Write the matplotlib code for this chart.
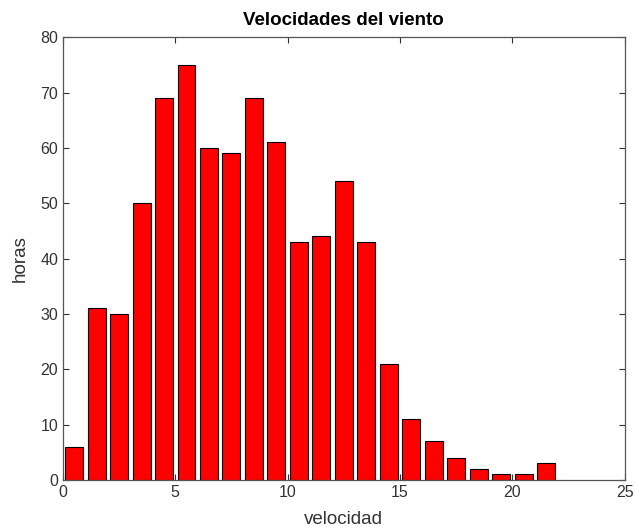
import matplotlib
matplotlib.use("Agg")
import matplotlib.pyplot as plt

# wind speed histogram: hours per speed bin
bin_centers = [0.5, 1.5, 2.5, 3.5, 4.5, 5.5, 6.5, 7.5, 8.5, 9.5, 10.5,
               11.5, 12.5, 13.5, 14.5, 15.5, 16.5, 17.5, 18.5, 19.5, 20.5, 21.5]
hours = [6, 31, 30, 50, 69, 75, 60, 59, 69, 61, 43,
         44, 54, 43, 21, 11, 7, 4, 2, 1, 1, 3]
x_ticks = [0, 5, 10, 15, 20, 25]
y_ticks = [0, 10, 20, 30, 40, 50, 60, 70, 80]

plt.rcParams["font.family"] = ["Liberation Sans", "DejaVu Sans"]

fig = plt.figure(figsize=(6.35, 5.31), dpi=100)
ax = fig.add_axes([0.099, 0.096, 0.885, 0.834])

ax.bar(bin_centers, hours, width=0.8, color="#ff0000", edgecolor="black", linewidth=0.8)

ax.set_xlim(0, 25)
ax.set_ylim(0, 80)
ax.set_xticks(x_ticks)
ax.set_yticks(y_ticks)
ax.tick_params(direction="in", top=True, right=True, length=4, labelsize=11.5, colors="#333333")
for sp in ax.spines.values():
    sp.set_color("#555555")
    sp.set_linewidth(0.9)

ax.set_title("Velocidades del viento", fontsize=13.5, fontweight="bold", pad=9)
ax.set_xlabel("velocidad", fontsize=13.5, color="#333333", labelpad=8)
ax.set_ylabel("horas", fontsize=13.5, color="#333333", labelpad=8)

fig.savefig("out.png", dpi=100)
